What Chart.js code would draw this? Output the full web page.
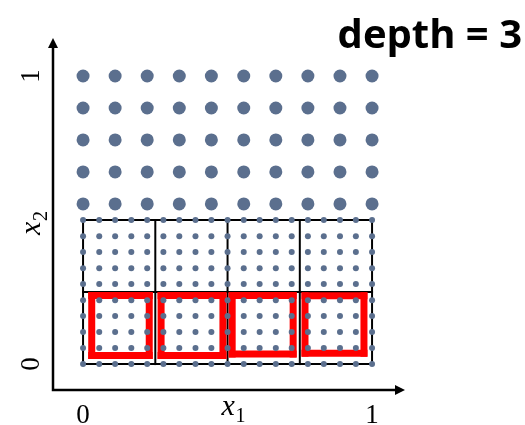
<!DOCTYPE html>
<html>
<head>
<meta charset="utf-8">
<script src="https://cdn.jsdelivr.net/npm/chart.js@4.4.0/dist/chart.umd.min.js"></script>
<style>
    html, body { margin: 0; padding: 0; background: #fff; }
    #wrap { width: 525px; height: 425px; }
</style>
</head>
<body>
<div id="wrap"><canvas id="myChart" width="525" height="425"></canvas></div>
<script>
// coarse points (upper part)
var bigCols = [0, 0.111, 0.222, 0.333, 0.444, 0.556, 0.667, 0.778, 0.889, 1];
var bigRows = [0.556, 0.667, 0.778, 0.889, 1];
// fine points (lower half)
var smallCols = [0, 0.056, 0.111, 0.167, 0.222, 0.278, 0.333, 0.389, 0.444, 0.5, 0.556, 0.611, 0.667, 0.722, 0.778, 0.833, 0.889, 0.944, 1];
var smallRows = [0, 0.056, 0.111, 0.167, 0.222, 0.278, 0.333, 0.389, 0.444, 0.5];
// black cell borders
var cellXs = [0, 0.25, 0.5, 0.75, 1];
var cellYs = [0, 0.25, 0.5];
// red boxes
var redLeft = [0.03, 0.27, 0.516, 0.768];
var redRight = [0.229, 0.484, 0.727, 0.972];
var redBottom = [0.03, 0.03, 0.035, 0.038];
var redTop = [0.238, 0.238, 0.238, 0.237];
// tick labels
var xTicks = [0, 1];
var yTicks = [0, 1];
var titleText = 'depth = 3';

var dotColor = '#5b6f8e';

var bigPts = [];
bigRows.forEach(function(y) {
    bigCols.forEach(function(x) {
        bigPts.push({ x: x, y: y });
    });
});
var smallPts = [];
smallRows.forEach(function(y) {
    smallCols.forEach(function(x) {
        smallPts.push({ x: x, y: y });
    });
});

function lineSeg(x0, y0, x1, y1, color, width) {
    return {
        data: [{ x: x0, y: y0 }, { x: x1, y: y1 }],
        showLine: true, pointRadius: 0, borderColor: color, borderWidth: width,
        borderCapStyle: 'square', fill: false
    };
}

var datasets = [];
datasets.push({
    data: bigPts, pointRadius: 6.5, pointBackgroundColor: dotColor,
    pointBorderWidth: 0, showLine: false
});
datasets.push({
    data: smallPts, pointRadius: 3, pointBackgroundColor: dotColor,
    pointBorderWidth: 0, showLine: false
});
// each red box as four sides, square caps fill the corners
for (var i = 0; i < redLeft.length; i++) {
    datasets.push(lineSeg(redLeft[i], redBottom[i], redLeft[i], redTop[i], '#ff0000', 7));
    datasets.push(lineSeg(redLeft[i], redTop[i], redRight[i], redTop[i], '#ff0000', 7));
    datasets.push(lineSeg(redRight[i], redTop[i], redRight[i], redBottom[i], '#ff0000', 7));
    datasets.push(lineSeg(redRight[i], redBottom[i], redLeft[i], redBottom[i], '#ff0000', 7));
}
cellXs.forEach(function(cx) {
    datasets.push(lineSeg(cx, cellYs[0], cx, cellYs[cellYs.length - 1], '#000', 2));
});
cellYs.forEach(function(cy) {
    datasets.push(lineSeg(cellXs[0], cy, cellXs[cellXs.length - 1], cy, '#000', 2));
});

// arrows, tick labels, axis names, title
var axesPlugin = {
    id: 'axesPlugin',
    beforeDatasetsDraw: function(chart) {
        var ctx = chart.ctx;
        var a = chart.chartArea;
        ctx.save();
        ctx.strokeStyle = '#000';
        ctx.fillStyle = '#000';
        ctx.lineWidth = 2.5;
        ctx.beginPath();
        ctx.moveTo(a.left, a.top + 6);
        ctx.lineTo(a.left, a.bottom);
        ctx.lineTo(a.right - 6, a.bottom);
        ctx.stroke();
        ctx.beginPath();
        ctx.moveTo(a.left, a.top);
        ctx.lineTo(a.left - 5, a.top + 10);
        ctx.lineTo(a.left + 5, a.top + 10);
        ctx.closePath();
        ctx.fill();
        ctx.beginPath();
        ctx.moveTo(a.right, a.bottom);
        ctx.lineTo(a.right - 10, a.bottom - 5);
        ctx.lineTo(a.right - 10, a.bottom + 5);
        ctx.closePath();
        ctx.fill();
        ctx.restore();
    },
    afterDraw: function(chart) {
        var ctx = chart.ctx;
        var xs = chart.scales.x;
        var ys = chart.scales.y;
        ctx.save();
        ctx.fillStyle = '#000';
        ctx.textAlign = 'center';
        ctx.textBaseline = 'middle';
        ctx.font = '27px "Liberation Serif"';
        xTicks.forEach(function(v) {
            ctx.fillText(String(v), xs.getPixelForValue(v), 416);
        });
        yTicks.forEach(function(v) {
            ctx.save();
            ctx.translate(32, ys.getPixelForValue(v));
            ctx.rotate(-Math.PI / 2);
            ctx.fillText(String(v), 0, 0);
            ctx.restore();
        });
        // x1
        ctx.textAlign = 'left';
        ctx.textBaseline = 'alphabetic';
        ctx.font = 'italic 30px "Liberation Serif"';
        var mx = xs.getPixelForValue(0.5);
        ctx.fillText('x', mx - 6, 415);
        ctx.font = '20px "Liberation Serif"';
        ctx.fillText('1', mx + 8, 422);
        // x2
        ctx.save();
        ctx.translate(40, ys.getPixelForValue(0.5) + 15);
        ctx.rotate(-Math.PI / 2);
        ctx.font = 'italic 30px "Liberation Serif"';
        ctx.fillText('x', 0, 0);
        ctx.font = '20px "Liberation Serif"';
        ctx.fillText('2', 14, 7);
        ctx.restore();
        // title
        ctx.textAlign = 'right';
        ctx.font = 'bold 40px "Open Sans"';
        ctx.fillText(titleText, 522, 48);
        ctx.restore();
    }
};

var ctx = document.getElementById('myChart').getContext('2d');
var myChart = new Chart(ctx, {
    type: 'scatter',
    data: { datasets: datasets },
    options: {
        responsive: false,
        animation: false,
        events: [],
        layout: { padding: { left: 53, right: 120, top: 38, bottom: 35 } },
        plugins: { legend: { display: false }, tooltip: { enabled: false } },
        scales: {
            x: { type: 'linear', min: -0.104, max: 1.114, display: false },
            y: { type: 'linear', min: -0.09, max: 1.132, display: false }
        }
    },
    plugins: [axesPlugin]
});
</script>
</body>
</html>
